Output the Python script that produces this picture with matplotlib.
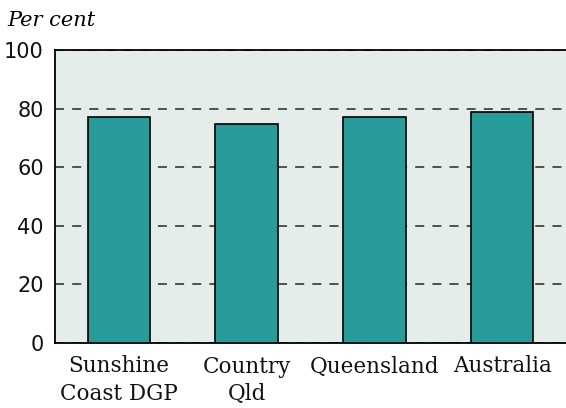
import matplotlib
matplotlib.use('Agg')
import matplotlib.pyplot as plt

# Data
regions = ['Sunshine\nCoast DGP', 'Country\nQld', 'Queensland', 'Australia']
values = [77.2, 74.7, 77.2, 78.9]
yticks = [0, 20, 40, 60, 80, 100]

plt.rcParams['font.family'] = ['DejaVu Serif']

fig = plt.figure(figsize=(5.66, 4.08), dpi=100)
ax = fig.add_axes([55 / 566, 65 / 408, 1 - 55 / 566, 293 / 408])
ax.set_facecolor('#e4edea')

ax.bar(range(len(values)), values, width=0.49, color='#279a9a',
       edgecolor='black', linewidth=1.2, zorder=3)

ax.set_xlim(-0.5, 3.5)
ax.set_ylim(0, 100)
ax.set_yticks(yticks)
ax.set_yticklabels([str(t) for t in yticks], family='DejaVu Sans', fontsize=15)
ax.set_xticks(range(len(regions)))
ax.set_xticklabels(regions, fontsize=15.5, linespacing=1.3)
ax.tick_params(axis='both', length=0, colors='#111111')
ax.tick_params(axis='x', pad=9)
ax.tick_params(axis='y', pad=8)

ax.yaxis.grid(True, color='#444444', linestyle=(0, (5, 4.5)), linewidth=1.3, zorder=1)
for s in ['left', 'bottom', 'top']:
    ax.spines[s].set_color('black')
    ax.spines[s].set_linewidth(1.3)
ax.spines['right'].set_visible(False)

fig.text(7 / 566, 1 - 26 / 408, 'Per cent', fontsize=15, style='italic',
         ha='left', va='baseline')

fig.savefig('out.png', dpi=100)
plt.close()
